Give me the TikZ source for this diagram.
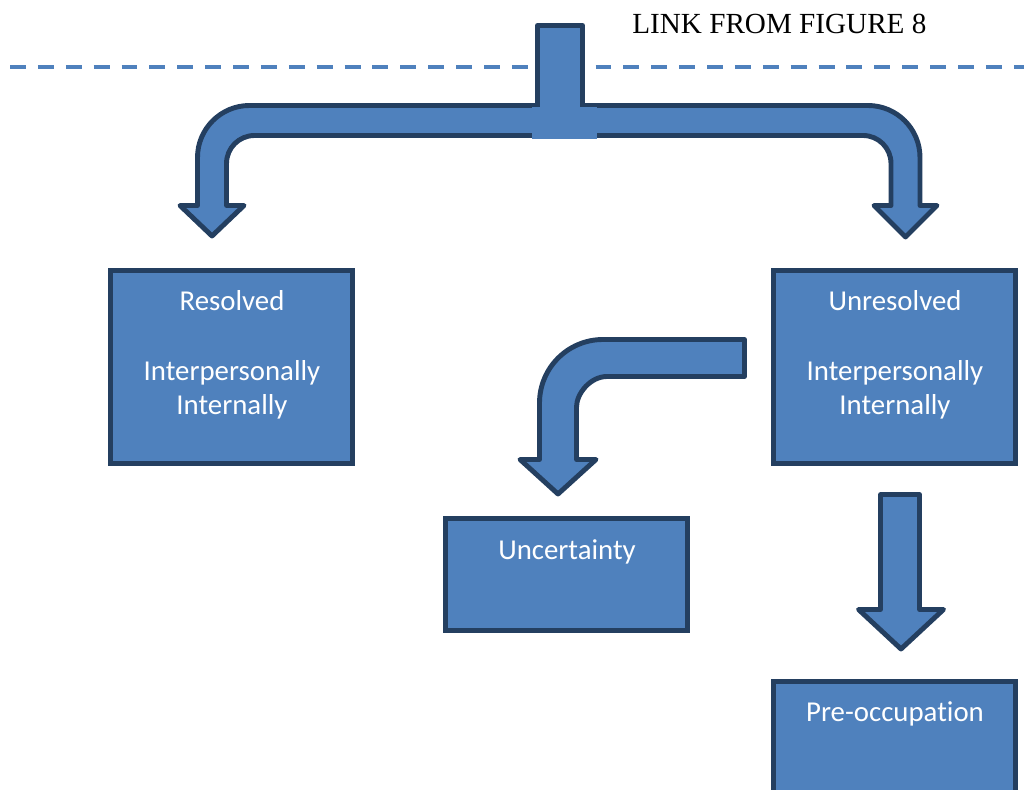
\documentclass[tikz,border=0pt]{standalone}
\usepackage{fontspec}
\setmainfont{Liberation Serif}
\newfontfamily\boxfont[Ligatures=NoCommon]{Carlito}
\definecolor{bluefill}{HTML}{4F81BD}
\definecolor{blueline}{HTML}{243F60}
\begin{document}
\begin{tikzpicture}[x=0.02cm,y=-0.02cm,
  shapestyle/.style={fill=bluefill,draw=blueline,line width=2.8pt,line join=round},
  box/.style={rectangle,fill=bluefill,draw=blueline,line width=2.8pt,inner sep=0pt,
    minimum width=4.84cm},
  boxtext/.style={font=\boxfont\fontsize{16.4pt}{19.7pt}\selectfont,text=white,anchor=base,inner sep=0pt},
  dashline/.style={draw=bluefill,line width=2.3pt,dash pattern=on 9.07pt off 6.8pt}]
\useasboundingbox (0,0) rectangle (1024,790);
% heading and dashed line
\node[font=\fontsize{16.6pt}{19.9pt}\selectfont,anchor=base west,inner sep=0pt] (link) at (632,34) {LINK FROM FIGURE 8};
\coordinate (dl) at (10,67);
\coordinate (dr) at (1026,67);
\draw[dashline] (dl) -- (dr);
% boxes
\node[box,minimum height=3.86cm] (res) at (231.5,367) {};
\node[box,minimum height=3.86cm] (unres) at (894.5,367) {};
\node[box,minimum height=2.24cm] (unc) at (566.5,574.5) {};
\node[box,minimum height=2.37cm] (pre) at (894.5,740.75) {};
\node[boxtext] (resA) at (232,311) {Resolved};
\node[boxtext] (resB) at (232,380) {Interpersonally};
\node[boxtext] (resC) at (232,415) {Internally};
\node[boxtext] (unresA) at (895,311) {Unresolved};
\node[boxtext] (unresB) at (895,380) {Interpersonally};
\node[boxtext] (unresC) at (895,415) {Internally};
\node[boxtext] (uncA) at (567,559) {Uncertainty};
\node[boxtext] (preA) at (895,721) {Pre-occupation};
% main split arrow
\path[shapestyle] (212,236) -- (180,205.5) -- (197.5,205.5) -- (197.5,157.5)
  .. controls (197.5,128.8) and (220.8,105.5) .. (249.5,105.5) -- (868,105.5)
  .. controls (896.7,105.5) and (920,128.8) .. (920,157.5) -- (920,205.5)
  -- (937,205.5) -- (905.5,237) -- (874,205.5) -- (891,205.5) -- (891,163.5)
  .. controls (891,148) and (878.5,135.5) .. (863,135.5) -- (254.5,135.5)
  .. controls (239,135.5) and (226.5,148) .. (226.5,163.5) -- (226.5,205.5)
  -- (244,205.5) -- cycle;
\path[shapestyle] (537.5,120) -- (537.5,25.5) -- (582.5,25.5) -- (582.5,120) -- cycle;
\fill[bluefill] (532,107.5) rectangle (597,139);
% bent arrow to uncertainty
\path[shapestyle] (558,494) -- (520,459.5) -- (539.5,459.5) -- (539.5,403)
  .. controls (539.5,367.9) and (567.9,339.5) .. (603,339.5) -- (744.5,339.5)
  -- (744.5,376.5) -- (607,376.5)
  .. controls (590.2,376.5) and (576.5,393.7) .. (576.5,407) -- (576.5,459.5)
  -- (596,459.5) -- cycle;
% down arrow to pre-occupation
\path[shapestyle] (880.5,494.5) -- (919.5,494.5) -- (919.5,609.5) -- (943.5,609.5)
  -- (901,649) -- (858.5,609.5) -- (880.5,609.5) -- cycle;
\end{tikzpicture}
\end{document}
